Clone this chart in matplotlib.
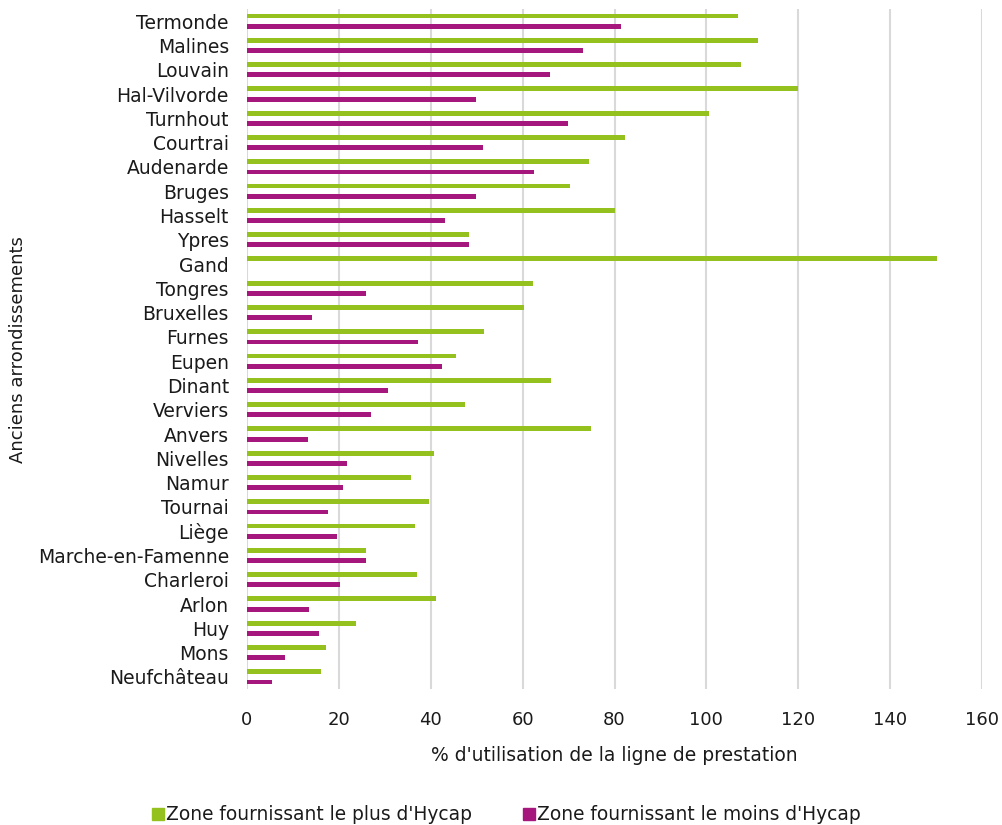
import matplotlib
matplotlib.use("Agg")
import matplotlib.pyplot as plt
from matplotlib.lines import Line2D
import numpy as np

categories = ["Termonde", "Malines", "Louvain", "Hal-Vilvorde", "Turnhout", "Courtrai",
              "Audenarde", "Bruges", "Hasselt", "Ypres", "Gand", "Tongres", "Bruxelles",
              "Furnes", "Eupen", "Dinant", "Verviers", "Anvers", "Nivelles", "Namur",
              "Tournai", "Liège", "Marche-en-Famenne", "Charleroi", "Arlon", "Huy",
              "Mons", "Neufchâteau"]
plus_hycap = [106.9, 111.3, 107.6, 120.0, 100.5, 82.2, 74.5, 70.3, 80.1, 48.3, 150.2,
              62.2, 60.2, 51.6, 45.6, 66.2, 47.5, 74.9, 40.7, 35.7, 39.7, 36.5, 25.8,
              37.0, 41.1, 23.7, 17.3, 16.2]
moins_hycap = [81.5, 73.2, 65.9, 49.9, 69.9, 51.4, 62.4, 49.8, 43.2, 48.4, 0.0,
               25.9, 14.1, 37.3, 42.4, 30.6, 27.0, 13.2, 21.8, 21.0, 17.7, 19.7, 25.8,
               20.3, 13.4, 15.6, 8.3, 5.5]
series_names = ["Zone fournissant le plus d'Hycap", "Zone fournissant le moins d'Hycap"]
xticks = [0, 20, 40, 60, 80, 100, 120, 140, 160]

green = "#95C11F"
purple = "#A5177C"
txt = "#1a1a1a"

plt.rcParams['font.family'] = ['DejaVu Sans']
fig = plt.figure(figsize=(10.03, 8.25), dpi=100)
ax = fig.add_axes([247/1003, 1-689/825, (982-247)/1003, (689-9)/825])

n = len(categories)
y = np.arange(n)
h = 0.2
off = 0.21
ax.barh(y - off, plus_hycap, height=h, color=green, zorder=3)
ax.barh(y + off, moins_hycap, height=h, color=purple, zorder=3)

ax.set_ylim(n - 0.5, -0.5)
ax.set_xlim(0, 160)
ax.set_yticks(y)
ax.set_yticklabels(categories, fontsize=13.5, color=txt)
ax.set_xticks(xticks)
ax.set_xticklabels([str(t) for t in xticks], fontsize=13, color=txt)
ax.tick_params(axis='both', length=0)
ax.tick_params(axis='x', pad=16)
ax.tick_params(axis='y', pad=13)
ax.grid(axis='x', color="#d9d9d9", linewidth=1.5, zorder=0)
for s in ax.spines.values():
    s.set_visible(False)

ax.set_xlabel("% d'utilisation de la ligne de prestation", fontsize=13.5, labelpad=12, color=txt)
fig.text(18/1003, 1-350/825, "Anciens arrondissements", rotation=90, fontsize=13,
         ha='center', va='center', color=txt)

handles = [Line2D([], [], marker='s', linestyle='none', markersize=8, color=green),
           Line2D([], [], marker='s', linestyle='none', markersize=8, color=purple)]
fig.legend(handles, series_names, loc='center', bbox_to_anchor=(505/1003, 1-815/825),
           ncol=2, frameon=False, fontsize=13.4, handletextpad=0.0, columnspacing=2.6,
           handlelength=0.9, labelcolor=txt)

fig.savefig("out.png", dpi=100)
